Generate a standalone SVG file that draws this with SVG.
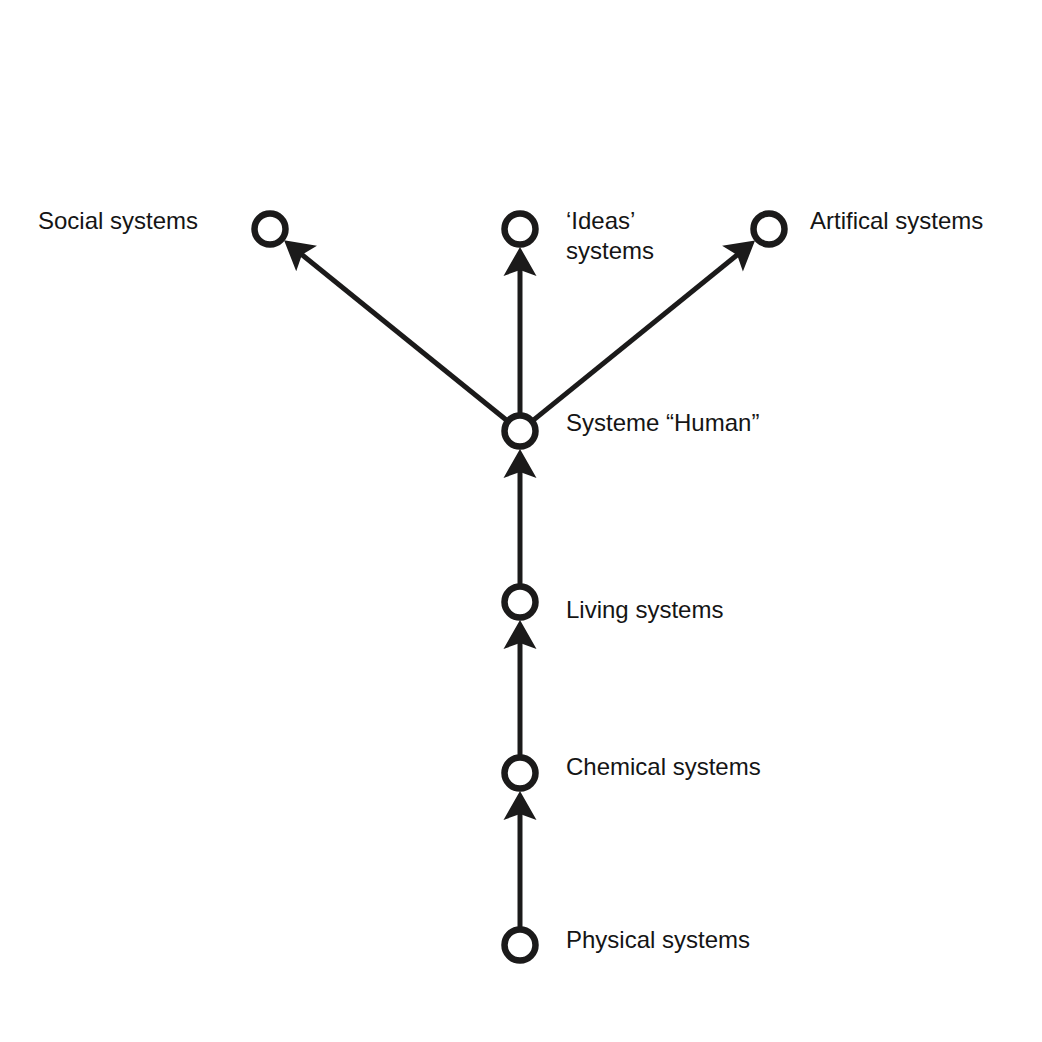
<svg xmlns="http://www.w3.org/2000/svg" width="1042" height="1042" viewBox="0 0 1042 1042">
<style>
.node circle{fill:#fff;stroke:#1b1a1a;stroke-width:6.5}
.lbl{font-family:"Liberation Sans",Arial,sans-serif;font-size:24px;fill:#151515}
.edge{stroke:#1b1a1a;stroke-width:5;fill:none;marker-end:url(#ah)}
</style>
<defs>
<marker id="ah" markerUnits="userSpaceOnUse" viewBox="-10 -18 32 36" refX="0" refY="0" markerWidth="32" markerHeight="36" orient="auto" overflow="visible">
<path d="M20,0 L-9,-16.5 L-3,0 L-9,16.5 Z" fill="#1b1a1a"/>
</marker>
</defs>
<rect width="1042" height="1042" fill="#fff"/>
<g id="connectors">
<line class="edge" x1="520" y1="927" x2="520" y2="811"/>
<line class="edge" x1="520" y1="755" x2="520" y2="640"/>
<line class="edge" x1="520" y1="584" x2="520" y2="469"/>
<line class="edge" x1="520" y1="413" x2="520" y2="267"/>
<line class="edge" x1="506" y1="419.7" x2="299.6" y2="252.8"/>
<line class="edge" x1="534" y1="419.6" x2="739.5" y2="253"/>
</g>
<g id="n-physical" class="node"><circle cx="520" cy="945" r="15.5"/><text class="lbl" x="566" y="948">Physical systems</text></g>
<g id="n-chemical" class="node"><circle cx="520" cy="773" r="15.5"/><text class="lbl" x="566" y="775">Chemical systems</text></g>
<g id="n-living" class="node"><circle cx="520" cy="602" r="15.5"/><text class="lbl" x="566" y="618">Living systems</text></g>
<g id="n-human" class="node"><circle cx="520" cy="431" r="15.5"/><text class="lbl" x="566" y="431">Systeme “Human”</text></g>
<g id="n-social" class="node"><circle cx="270" cy="229" r="15.5"/><text class="lbl" x="38" y="229">Social systems</text></g>
<g id="n-ideas" class="node"><circle cx="520" cy="229" r="15.5"/><text class="lbl" x="566" y="229">‘Ideas’</text><text class="lbl" x="566" y="259">systems</text></g>
<g id="n-artifical" class="node"><circle cx="769" cy="229" r="15.5"/><text class="lbl" x="810" y="229">Artifical systems</text></g>
</svg>
